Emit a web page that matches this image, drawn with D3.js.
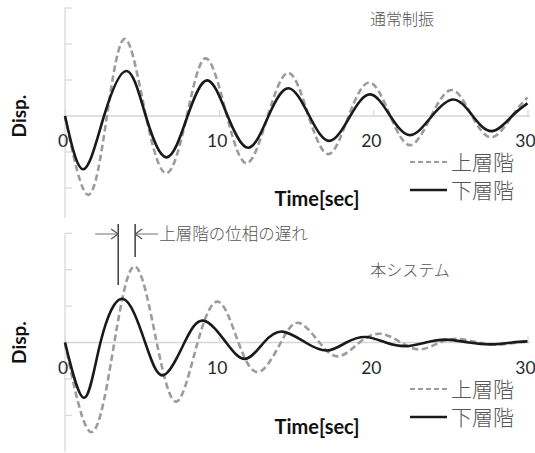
<!DOCTYPE html>
<html>
<head>
<meta charset="utf-8">
<script src="https://cdn.jsdelivr.net/npm/d3@7"></script>
<style>
  html, body { margin: 0; padding: 0; background: #fff; }
  svg { display: block; }
</style>
</head>
<body>
<svg id="chart" width="535" height="453"></svg>
<script>
// Displacement time histories [time (s), displacement]: peaks, troughs and zero crossings
const xTicks = [0, 10, 20, 30];
const yTicks = [-2, -1, 1, 2, 3];
const seriesNames = ["上層階", "下層階"];
const panelTitles = ["通常制振", "本システム"];

// conventional damping: upper floor
const conventionalUpper = [
  [0, 0], [1.51, -2.19], [2.72, 0], [3.9, 2.14], [5.25, 0], [6.6, -1.59], [7.9, 0],
  [9.14, 1.60], [10.5, 0], [11.8, -1.31], [13.15, 0], [14.5, 1.20], [15.8, 0],
  [17.1, -1.06], [18.4, 0], [19.76, 0.93], [21.1, 0], [22.4, -0.81], [23.75, 0],
  [25.1, 0.72], [26.4, 0], [27.7, -0.59], [29.0, 0], [30, 0.52]
];
// conventional damping: lower floor
const conventionalLower = [
  [0, 0], [1.19, -1.48], [2.53, 0], [4.0, 1.25], [5.24, 0], [6.6, -1.15], [7.95, 0],
  [9.24, 0.99], [10.55, 0], [11.9, -0.88], [13.2, 0], [14.5, 0.77], [15.85, 0],
  [17.16, -0.69], [18.5, 0], [19.8, 0.60], [21.1, 0], [22.4, -0.53], [23.8, 0],
  [25.2, 0.46], [26.45, 0], [27.7, -0.42], [29.0, 0], [30, 0.35]
];
// proposed system: upper floor
const systemUpper = [
  [0, 0], [1.73, -2.46], [3.2, 0], [4.55, 2.09], [5.95, 0], [7.25, -1.62], [8.6, 0],
  [9.95, 1.12], [11.25, 0], [12.55, -0.81], [14.0, 0], [15.15, 0.54], [16.5, 0],
  [17.75, -0.38], [19.1, 0], [20.45, 0.24], [21.8, 0], [23.05, -0.19], [24.3, 0],
  [25.5, 0.10], [26.8, 0], [28.1, -0.06], [29.3, 0], [30, 0.01]
];
// proposed system: lower floor
const systemLower = [
  [0, 0], [1.25, -1.52], [2.3, 0], [3.75, 1.20], [5.2, 0], [6.38, -0.90], [7.75, 0],
  [8.98, 0.60], [10.45, 0], [11.7, -0.45], [12.9, 0], [14.1, 0.30], [15.6, 0],
  [17.0, -0.22], [18.25, 0], [19.5, 0.15], [20.8, 0], [22.1, -0.10], [23.4, 0],
  [24.7, 0.08], [26.2, 0], [27.7, -0.05], [29.0, 0], [30, 0.03]
];
// phase-lag marker: times of the lower and upper first peaks
const lagTimes = [3.45, 4.55];
const lagLabel = "上層階の位相の遅れ";

const svg = d3.select("#chart");
const latin = "Lato, 'Liberation Sans', sans-serif";
const cjk = "'Noto Sans CJK JP', 'Noto Sans', sans-serif";
const upperColor = "#9c9c9c";
const lowerColor = "#1a1a1a";
const axisColor = "#d6d6d6";
const cjkColor = "#555";

const x = d3.scaleLinear().domain([0, 30]).range([65, 527.5]);

const panels = [
  { title: panelTitles[0], upper: conventionalUpper, lower: conventionalLower,
    y: d3.scaleLinear().domain([-3, 3]).range([224, 8]), axisMin: -2.83,
    titlePos: [402, 20], legendY: 162, xTitleY: 199 },
  { title: panelTitles[1], upper: systemUpper, lower: systemLower,
    y: d3.scaleLinear().domain([-3, 3]).range([451.7, 233.3]), axisMin: -3,
    titlePos: [410, 271], legendY: 389, xTitleY: 427 }
];

panels.forEach((p, i) => {
  const g = svg.append("g");
  const y = p.y;
  const y0 = y(0);

  // vertical axis with inward ticks
  g.append("line")
    .attr("x1", x(0)).attr("x2", x(0))
    .attr("y1", y(p.axisMin)).attr("y2", y(3))
    .attr("stroke", axisColor).attr("stroke-width", 1.2);
  g.selectAll(".ytick").data(yTicks).enter().append("line")
    .attr("x1", x(0)).attr("x2", x(0) + 7)
    .attr("y1", d => y(d)).attr("y2", d => y(d))
    .attr("stroke", axisColor).attr("stroke-width", 1.2);

  // zero line with upward ticks
  const xAxis = d3.axisTop(x).tickValues(xTicks).tickSize(6).tickFormat("");
  const ax = g.append("g").attr("transform", `translate(0,${y0})`).call(xAxis);
  ax.select(".domain").remove();
  ax.selectAll(".tick line").attr("stroke", axisColor).attr("stroke-width", 1.2);
  g.append("line")
    .attr("x1", x(0)).attr("x2", x(30) + 2.5)
    .attr("y1", y0).attr("y2", y0)
    .attr("stroke", axisColor).attr("stroke-width", 1.4);

  // tick labels below the zero line
  g.selectAll(".xlab").data(xTicks).enter().append("text")
    .attr("x", d => x(d) - 2).attr("y", y0 + 31)
    .attr("text-anchor", "middle")
    .attr("font-family", latin).attr("font-size", 17.5)
    .attr("fill", "#2a2a2a")
    .text(d => d);

  const line = d3.line()
    .x(d => x(d[0])).y(d => y(d[1]))
    .curve(d3.curveNatural);

  g.append("path").datum(p.upper)
    .attr("d", line).attr("fill", "none")
    .attr("stroke", upperColor).attr("stroke-width", 2.6)
    .attr("stroke-dasharray", "6.5,3.5");
  g.append("path").datum(p.lower)
    .attr("d", line).attr("fill", "none")
    .attr("stroke", lowerColor).attr("stroke-width", 2.6);

  // axis titles
  g.append("text")
    .attr("transform", `translate(26,${y0}) rotate(-90)`)
    .attr("text-anchor", "middle")
    .attr("font-family", latin).attr("font-weight", "bold").attr("font-size", 19)
    .attr("fill", "#111")
    .text("Disp.");
  g.append("text")
    .attr("x", 317).attr("y", p.xTitleY + 7)
    .attr("text-anchor", "middle")
    .attr("font-family", latin).attr("font-weight", "bold").attr("font-size", 20)
    .attr("fill", "#111")
    .text("Time[sec]");

  // panel caption
  g.append("text")
    .attr("x", p.titlePos[0]).attr("y", p.titlePos[1] + 5)
    .attr("text-anchor", "middle")
    .attr("font-family", cjk).attr("font-weight", 300).attr("font-size", 16)
    .attr("fill", cjkColor)
    .text(p.title);

  // legend
  const legend = g.append("g").attr("transform", `translate(410,${p.legendY})`);
  [upperColor, lowerColor].forEach((c, k) => {
    const ly = k * 28;
    legend.append("line")
      .attr("x1", 0).attr("x2", 37).attr("y1", ly).attr("y2", ly)
      .attr("stroke", c).attr("stroke-width", k === 0 ? 2 : 2.6)
      .attr("stroke-dasharray", k === 0 ? "5,3" : null);
    legend.append("text")
      .attr("x", 41).attr("y", ly + 8)
      .attr("font-family", cjk).attr("font-weight", 300).attr("font-size", 21)
      .attr("fill", cjkColor)
      .text(seriesNames[k]);
  });

  // phase-lag annotation on the second panel
  if (i === 1) {
    const ann = g.append("g");
    const xa = x(lagTimes[0]), xb = x(lagTimes[1]);
    const ay = 234;
    ann.append("line").attr("x1", xa).attr("x2", xa).attr("y1", 224).attr("y2", 285)
      .attr("stroke", "#222").attr("stroke-width", 1.3);
    ann.append("line").attr("x1", xb).attr("x2", xb).attr("y1", 224).attr("y2", 257)
      .attr("stroke", "#222").attr("stroke-width", 1.3);
    ann.append("line").attr("x1", xa - 23).attr("x2", xa).attr("y1", ay).attr("y2", ay)
      .attr("stroke", "#888").attr("stroke-width", 1.2);
    ann.append("path").attr("d", `M${xa - 7},${ay - 5} L${xa},${ay} L${xa - 7},${ay + 5}`)
      .attr("fill", "none").attr("stroke", "#555").attr("stroke-width", 1.2);
    ann.append("line").attr("x1", xb).attr("x2", xb + 23).attr("y1", ay).attr("y2", ay)
      .attr("stroke", "#888").attr("stroke-width", 1.2);
    ann.append("path").attr("d", `M${xb + 7},${ay - 5} L${xb},${ay} L${xb + 7},${ay + 5}`)
      .attr("fill", "none").attr("stroke", "#555").attr("stroke-width", 1.2);
    ann.append("text")
      .attr("x", xb + 24).attr("y", ay + 5.5)
      .attr("font-family", cjk).attr("font-weight", 300).attr("font-size", 16.5)
      .attr("fill", cjkColor)
      .text(lagLabel);
  }
});
</script>
</body>
</html>
